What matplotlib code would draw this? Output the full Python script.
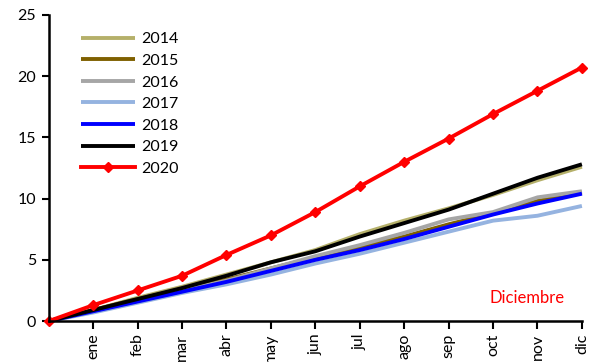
import matplotlib
matplotlib.use("Agg")
import matplotlib.pyplot as plt

months = ["", "ene", "feb", "mar", "abr", "may", "jun", "jul", "ago", "sep", "oct", "nov", "dic"]

s2014 = [0, 0.9, 1.9, 2.8, 3.8, 4.8, 5.8, 7.1, 8.2, 9.2, 10.3, 11.5, 12.6]
s2015 = [0, 0.9, 1.8, 2.6, 3.4, 4.3, 5.2, 6.0, 6.9, 7.9, 8.8, 9.8, 10.5]
s2016 = [0, 0.8, 1.7, 2.5, 3.3, 4.3, 5.3, 6.2, 7.2, 8.3, 8.9, 10.1, 10.6]
s2017 = [0, 0.7, 1.5, 2.3, 3.0, 3.8, 4.7, 5.5, 6.4, 7.3, 8.2, 8.6, 9.4]
s2018 = [0, 0.8, 1.6, 2.4, 3.2, 4.1, 5.0, 5.8, 6.7, 7.7, 8.7, 9.6, 10.4]
s2019 = [0, 0.9, 1.8, 2.7, 3.7, 4.8, 5.7, 6.9, 8.0, 9.1, 10.4, 11.7, 12.8]
s2020 = [0, 1.3, 2.5, 3.7, 5.4, 7.0, 8.9, 11.0, 13.0, 14.9, 16.9, 18.8, 20.7]

series = [
    ("2014", s2014, "#b5b06a"),
    ("2015", s2015, "#7f6000"),
    ("2016", s2016, "#a6a6a6"),
    ("2017", s2017, "#95b3e0"),
    ("2018", s2018, "#0000ff"),
    ("2019", s2019, "#000000"),
]

plt.rcParams['font.family'] = ['Lato', 'DejaVu Sans']
FS = 11.5

fig = plt.figure(figsize=(5.95, 3.62), dpi=100)
ax = fig.add_axes([0.082, 0.113, 0.896, 0.846])

x = list(range(len(months)))
for name, vals, col in series:
    ax.plot(x, vals, color=col, lw=2.8, label=name, solid_capstyle='butt')
ax.plot(x, s2020, color="#ff0000", lw=2.8, marker='D', markersize=5.5, label="2020")

ax.set_xlim(0, 12)
ax.set_ylim(0, 25)
ax.set_yticks([0, 5, 10, 15, 20, 25])
ax.set_xticks(x[1:])
ax.set_xticklabels(months[1:], rotation=90, fontsize=FS)
ax.tick_params(axis='y', labelsize=FS, direction='out', length=5, width=1.5, pad=4)
ax.tick_params(axis='x', direction='out', length=6, width=1.5, pad=3)
for s in ['top', 'right']:
    ax.spines[s].set_visible(False)
for s in ['left', 'bottom']:
    ax.spines[s].set_linewidth(1.8)
for l in ax.lines:
    l.set_clip_on(False)

ax.text(10.77, 1.9, "Diciembre", color="#ff0000", fontsize=12, ha='center', va='center')

leg = ax.legend(loc='upper left', bbox_to_anchor=(0.033, 0.99), frameon=False, fontsize=FS,
                handlelength=3.4, labelspacing=0.46, handletextpad=0.4)

fig.savefig("out.png", dpi=100)
